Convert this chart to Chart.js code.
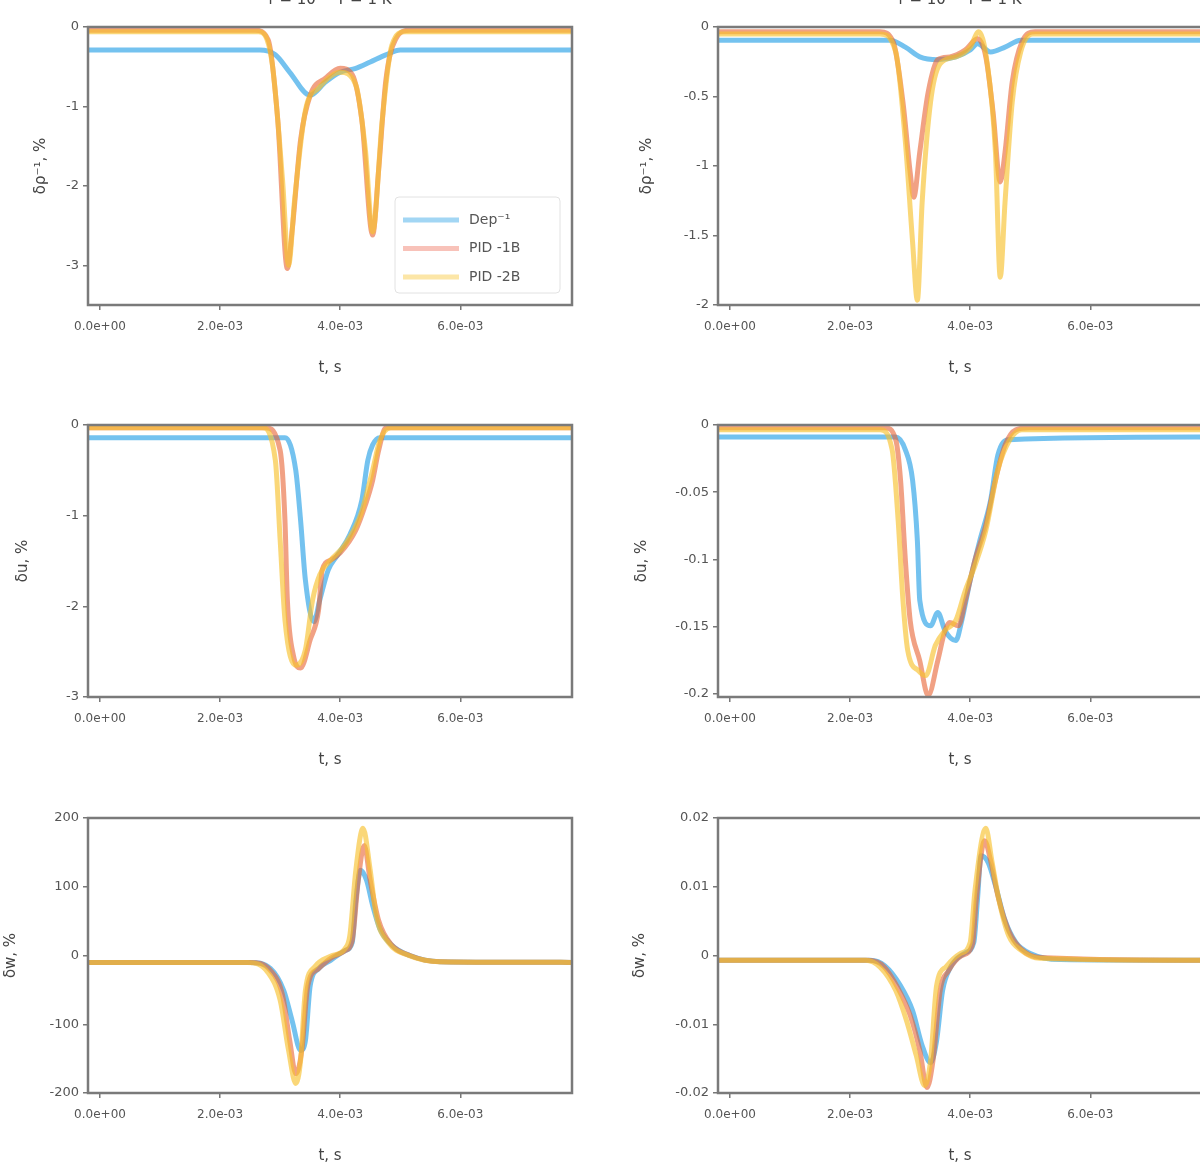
<!DOCTYPE html>
<html>
<head>
<meta charset="utf-8">
<script src="https://cdn.jsdelivr.net/npm/chart.js@4.4.1/dist/chart.umd.min.js"></script>
<style>
    html, body { margin: 0; padding: 0; background: #fff; width: 1200px; height: 1176px; overflow: hidden; }
    .panel { position: absolute; width: 630px; }
</style>
</head>
<body>
<div class="panel" style="left:0;top:0"><canvas id="pA" width="630" height="395"></canvas></div>
<div class="panel" style="left:630px;top:0"><canvas id="pB" width="630" height="395"></canvas></div>
<div class="panel" style="left:0;top:395px"><canvas id="pC" width="630" height="392"></canvas></div>
<div class="panel" style="left:630px;top:395px"><canvas id="pD" width="630" height="392"></canvas></div>
<div class="panel" style="left:0;top:787px"><canvas id="pE" width="630" height="396"></canvas></div>
<div class="panel" style="left:630px;top:787px"><canvas id="pF" width="630" height="396"></canvas></div>
<script>
// series and tick labels
const seriesNames = ['Dep⁻¹', 'PID -1B', 'PID -2B'];
const xTickLabels = ['0.0e+00', '2.0e-03', '4.0e-03', '6.0e-03'];
const yTicksA = ['0', '-1', '-2', '-3'];
const yTicksB = ['0', '-0.5', '-1', '-1.5', '-2'];
const yTicksC = ['0', '-1', '-2', '-3'];
const yTicksD = ['0', '-0.05', '-0.1', '-0.15', '-0.2'];
const yTicksE = ['200', '100', '0', '-100', '-200'];
const yTicksF = ['0.02', '0.01', '0', '-0.01', '-0.02'];

// panel A (top left)
const aBlueX = [-0.1, 1.33, 1.46, 1.58, 1.75, 1.88, 2.0, 2.13, 2.25, 2.38, 2.5, 3.93];
const aBlueY = [-0.29, -0.29, -0.35, -0.57, -0.86, -0.69, -0.57, -0.52, -0.44, -0.35, -0.29, -0.29];
const aRedX = [-0.1, 1.29, 1.40, 1.48, 1.56, 1.60, 1.67, 1.75, 1.88, 2.0, 2.1, 2.18, 2.27, 2.32, 2.38, 2.46, 2.58, 3.93];
const aRedY = [-0.04, -0.04, -0.16, -1.17, -3.04, -2.56, -1.42, -0.86, -0.64, -0.52, -0.6, -1.17, -2.62, -1.8, -0.67, -0.16, -0.04, -0.04];
const aGoldX = [-0.1, 1.32, 1.43, 1.52, 1.57, 1.62, 1.71, 1.82, 2.0, 2.13, 2.21, 2.27, 2.35, 2.43, 2.54, 3.93];
const aGoldY = [-0.06, -0.06, -0.42, -1.93, -3.0, -2.18, -1.05, -0.77, -0.57, -0.73, -1.55, -2.58, -1.17, -0.23, -0.06, -0.06];

// panel B (top right)
const bBlueX = [-0.1, 1.33, 1.46, 1.58, 1.73, 1.88, 2.0, 2.06, 2.17, 2.29, 2.42, 3.93];
const bBlueY = [-0.19, -0.19, -0.29, -0.43, -0.47, -0.43, -0.33, -0.24, -0.36, -0.29, -0.19, -0.19];
const bRedX = [-0.1, 1.25, 1.36, 1.44, 1.5, 1.53, 1.58, 1.65, 1.73, 1.83, 1.96, 2.06, 2.13, 2.19, 2.25, 2.29, 2.35, 2.43, 2.54, 3.93];
const bRedY = [-0.07, -0.07, -0.22, -1.08, -2.09, -2.45, -1.8, -0.94, -0.47, -0.43, -0.33, -0.17, -0.43, -1.22, -2.23, -1.8, -0.79, -0.22, -0.07, -0.07];
const bGoldX = [-0.1, 1.25, 1.38, 1.46, 1.52, 1.56, 1.6, 1.67, 1.75, 1.88, 2.0, 2.07, 2.14, 2.21, 2.25, 2.29, 2.35, 2.42, 2.52, 3.93];
const bGoldY = [-0.1, -0.1, -0.36, -1.65, -3.09, -3.93, -2.52, -1.08, -0.53, -0.43, -0.29, -0.07, -0.5, -1.8, -3.6, -2.52, -1.08, -0.36, -0.1, -0.1];

// panel C (middle left)
const cBlueX = [-0.1, 1.54, 1.63, 1.67, 1.71, 1.78, 1.83, 1.9, 1.98, 2.08, 2.18, 2.23, 2.27, 2.33, 3.93];
const cBlueY = [-0.14, -0.14, -0.5, -1.05, -1.71, -2.17, -1.93, -1.6, -1.43, -1.21, -0.83, -0.39, -0.22, -0.14, -0.14];
const cRedX = [-0.1, 1.38, 1.5, 1.54, 1.56, 1.61, 1.67, 1.75, 1.82, 1.85, 1.92, 2.0, 2.13, 2.21, 2.27, 2.32, 2.38, 3.93];
const cRedY = [-0.03, -0.03, -0.28, -1.05, -1.93, -2.54, -2.68, -2.37, -2.04, -1.6, -1.49, -1.41, -1.16, -0.88, -0.61, -0.28, -0.03, -0.03];
const cGoldX = [-0.1, 1.35, 1.46, 1.5, 1.54, 1.63, 1.71, 1.77, 1.83, 1.92, 2.04, 2.17, 2.27, 2.33, 2.42, 3.93];
const cGoldY = [-0.03, -0.03, -0.39, -1.27, -2.15, -2.65, -2.48, -1.93, -1.65, -1.49, -1.32, -0.99, -0.5, -0.17, -0.03, -0.03];

// panel D (middle right)
const dBlueX = [-0.1, 1.38, 1.46, 1.52, 1.56, 1.58, 1.67, 1.73, 1.79, 1.88, 1.93, 2.0, 2.08, 2.17, 2.23, 2.32, 3.93];
const dBlueY = [-0.18, -0.18, -0.37, -0.82, -1.72, -2.61, -2.99, -2.79, -3.06, -3.21, -2.91, -2.31, -1.72, -1.12, -0.45, -0.22, -0.18];
const dRedX = [-0.1, 1.29, 1.38, 1.42, 1.46, 1.5, 1.58, 1.65, 1.73, 1.79, 1.83, 1.9, 1.96, 2.04, 2.13, 2.21, 2.29, 2.38, 2.5, 3.93];
const dRedY = [-0.04, -0.04, -0.22, -0.82, -2.01, -2.91, -3.51, -4.03, -3.51, -3.06, -2.94, -2.99, -2.61, -2.01, -1.49, -0.82, -0.3, -0.07, -0.04, -0.04];
const dGoldX = [-0.1, 1.25, 1.35, 1.4, 1.44, 1.48, 1.57, 1.63, 1.71, 1.79, 1.88, 1.96, 2.04, 2.13, 2.23, 2.33, 2.43, 3.93];
const dGoldY = [-0.07, -0.07, -0.37, -1.42, -2.61, -3.36, -3.66, -3.73, -3.28, -3.06, -2.91, -2.46, -2.09, -1.57, -0.67, -0.22, -0.07, -0.07];

// panel E (bottom left)
const eBlueX = [-0.1, 1.25, 1.42, 1.53, 1.6, 1.67, 1.71, 1.75, 1.82, 1.92, 2.04, 2.1, 2.13, 2.17, 2.22, 2.27, 2.33, 2.43, 2.58, 2.83, 3.93];
const eBlueY = [-0.1, -0.1, -0.19, -0.51, -0.95, -1.38, -1.24, -0.44, -0.19, -0.07, 0.07, 0.19, 0.8, 1.24, 1.09, 0.73, 0.39, 0.15, 0, -0.09, -0.1];
const eRedX = [-0.1, 1.25, 1.42, 1.52, 1.58, 1.63, 1.68, 1.73, 1.82, 1.92, 2.04, 2.1, 2.15, 2.2, 2.25, 2.32, 2.42, 2.58, 2.83, 3.93];
const eRedY = [-0.1, -0.1, -0.22, -0.58, -1.24, -1.72, -1.38, -0.44, -0.19, -0.04, 0.07, 0.22, 1.09, 1.6, 1.09, 0.51, 0.17, 0, -0.09, -0.1];
const eGoldX = [-0.1, 1.23, 1.4, 1.5, 1.57, 1.63, 1.67, 1.71, 1.79, 1.92, 2.04, 2.08, 2.13, 2.19, 2.25, 2.3, 2.4, 2.57, 2.83, 3.93];
const eGoldY = [-0.1, -0.1, -0.25, -0.65, -1.38, -1.86, -1.53, -0.51, -0.16, -0.01, 0.1, 0.29, 1.24, 1.85, 1.24, 0.58, 0.19, 0, -0.09, -0.1];

// panel F (bottom right)
const fBlueX = [-0.1, 1.17, 1.29, 1.42, 1.52, 1.6, 1.67, 1.72, 1.77, 1.83, 1.96, 2.03, 2.06, 2.09, 2.15, 2.21, 2.29, 2.38, 2.5, 2.75, 3.93];
const fBlueY = [-0.07, -0.07, -0.15, -0.44, -0.8, -1.31, -1.56, -1.24, -0.51, -0.19, 0.04, 0.19, 0.8, 1.45, 1.35, 1.02, 0.51, 0.19, 0.03, -0.06, -0.07];
const fRedX = [-0.1, 1.15, 1.28, 1.4, 1.5, 1.58, 1.64, 1.69, 1.75, 1.82, 1.93, 2.02, 2.05, 2.12, 2.17, 2.23, 2.32, 2.42, 2.58, 3.93];
const fRedY = [-0.07, -0.07, -0.16, -0.48, -0.87, -1.38, -1.92, -1.53, -0.51, -0.22, 0, 0.17, 0.8, 1.67, 1.38, 0.87, 0.36, 0.1, -0.03, -0.07];
const fGoldX = [-0.1, 1.13, 1.25, 1.38, 1.47, 1.55, 1.62, 1.67, 1.72, 1.8, 1.92, 2.0, 2.04, 2.13, 2.18, 2.24, 2.32, 2.43, 2.58, 3.93];
const fGoldY = [-0.07, -0.07, -0.17, -0.51, -0.95, -1.45, -1.89, -1.53, -0.44, -0.16, 0.03, 0.19, 0.95, 1.85, 1.38, 0.8, 0.29, 0.07, -0.04, -0.07];

const seriesColors = ['rgba(70, 174, 234, 0.75)', 'rgba(232, 98, 50, 0.6)', 'rgba(248, 194, 48, 0.65)'];
const legendColors = ['rgba(70, 174, 234, 0.5)', 'rgba(240, 120, 100, 0.45)', 'rgba(250, 205, 80, 0.5)'];
const FONT = "'DejaVu Sans', sans-serif";

// Moldura cinza em volta da área do gráfico
const framePlugin = {
    id: 'frame',
    afterDatasetsDraw(chart) {
        const { ctx, chartArea: a } = chart;
        ctx.save();
        ctx.strokeStyle = '#7a7a7a';
        ctx.lineWidth = 2.5;
        ctx.strokeRect(a.left, a.top, a.right - a.left, a.bottom - a.top);
        ctx.restore();
    }
};

// Legenda dentro do gráfico (canto inferior direito)
const boxLegendPlugin = {
    id: 'boxLegend',
    afterDatasetsDraw(chart, args, opts) {
        if (!opts.show) return;
        const { ctx, chartArea: a } = chart;
        const w = 165, h = 96;
        const x0 = a.right - 12 - w, y0 = a.bottom - 12 - h;
        ctx.save();
        ctx.fillStyle = 'rgba(255,255,255,0.85)';
        ctx.strokeStyle = '#e2e2e2';
        ctx.lineWidth = 1;
        ctx.beginPath();
        ctx.roundRect(x0, y0, w, h, 4);
        ctx.fill();
        ctx.stroke();
        ctx.font = '14px ' + FONT;
        ctx.textBaseline = 'middle';
        seriesNames.forEach((name, i) => {
            const y = y0 + 23 + i * 28.5;
            ctx.strokeStyle = legendColors[i];
            ctx.lineWidth = 5;
            ctx.beginPath();
            ctx.moveTo(x0 + 8, y);
            ctx.lineTo(x0 + 64, y);
            ctx.stroke();
            ctx.fillStyle = '#555';
            ctx.fillText(name, x0 + 74, y);
        });
        ctx.restore();
    }
};

// Título no topo (cortado pela borda da figura)
const topTitlePlugin = {
    id: 'topTitle',
    afterDraw(chart, args, opts) {
        if (!opts.text) return;
        const { ctx, chartArea: a } = chart;
        ctx.save();
        ctx.font = '15px ' + FONT;
        ctx.fillStyle = '#444';
        ctx.textAlign = 'center';
        ctx.textBaseline = 'middle';
        ctx.fillText(opts.text, (a.left + a.right) / 2, 0);
        ctx.restore();
    }
};

function buildDatasets(xs, ys) {
    return xs.map((xArr, i) => ({
        label: seriesNames[i],
        data: xArr.map((x, j) => ({ x: x, y: ys[i][j] })),
        borderColor: seriesColors[i],
        borderWidth: 5,
        pointRadius: 0,
        cubicInterpolationMode: 'monotone',
        fill: false,
        order: 3 - i
    }));
}

function renderPanel(id, p) {
    const ctx = document.getElementById(id).getContext('2d');
    return new Chart(ctx, {
        type: 'line',
        data: { datasets: buildDatasets(p.xs, p.ys) },
        options: {
            responsive: false,
            animation: false,
            layout: { padding: { top: p.padTop, right: 58, bottom: 12, left: 0 } },
            plugins: {
                legend: { display: false },
                tooltip: { enabled: false },
                boxLegend: { show: !!p.legend },
                topTitle: { text: p.title || '' }
            },
            scales: {
                x: {
                    type: 'linear',
                    min: -0.1,
                    max: 3.93,
                    afterFit(s) { s.height = 78; },
                    border: { display: false },
                    grid: { drawOnChartArea: false, tickLength: 5, color: '#777', lineWidth: 1.5 },
                    ticks: {
                        stepSize: 1,
                        includeBounds: false,
                        autoSkip: false,
                        maxRotation: 0,
                        padding: 10,
                        color: '#555',
                        font: { family: FONT, size: 12 },
                        callback: v => xTickLabels[v] !== undefined && Number.isInteger(v) ? xTickLabels[v] : ''
                    },
                    title: {
                        display: true,
                        text: 't, s',
                        color: '#444',
                        padding: { top: 0, bottom: 6 },
                        font: { family: FONT, size: 15 }
                    }
                },
                y: {
                    type: 'linear',
                    min: p.yMin,
                    max: p.yMax,
                    afterFit(s) { s.width = 88; },
                    border: { display: false },
                    grid: { drawOnChartArea: false, tickLength: 5, color: '#777', lineWidth: 1.5 },
                    ticks: {
                        stepSize: 1,
                        includeBounds: false,
                        padding: 4,
                        color: '#555',
                        font: { family: FONT, size: 13 },
                        callback: v => {
                            const k = Math.round(p.yTop - v);
                            return Math.abs(p.yTop - v - k) < 1e-6 && p.yLabels[k] !== undefined ? p.yLabels[k] : '';
                        }
                    },
                    title: {
                        display: true,
                        text: p.yTitle,
                        color: '#444',
                        padding: { top: p.titlePad, bottom: 0 },
                        font: { family: FONT, size: 15 }
                    }
                }
            }
        },
        plugins: [framePlugin, boxLegendPlugin, topTitlePlugin]
    });
}

document.addEventListener('DOMContentLoaded', () => {
    renderPanel('pA', {
        xs: [aBlueX, aRedX, aGoldX], ys: [aBlueY, aRedY, aGoldY],
        yMin: -3.5, yMax: 0, yTop: 0, yLabels: yTicksA, yTitle: 'δρ⁻¹, %', titlePad: 32,
        padTop: 27, legend: true, title: 'r = 10⁴ · T = 1 K'
    });
    renderPanel('pB', {
        xs: [bBlueX, bRedX, bGoldX], ys: [bBlueY, bRedY, bGoldY],
        yMin: -4, yMax: 0, yTop: 0, yLabels: yTicksB, yTitle: 'δρ⁻¹, %', titlePad: 8,
        padTop: 27, title: 'r = 10⁵ · T = 1 K'
    });
    renderPanel('pC', {
        xs: [cBlueX, cRedX, cGoldX], ys: [cBlueY, cRedY, cGoldY],
        yMin: -3, yMax: 0, yTop: 0, yLabels: yTicksC, yTitle: 'δu, %', titlePad: 14,
        padTop: 30
    });
    renderPanel('pD', {
        xs: [dBlueX, dRedX, dGoldX], ys: [dBlueY, dRedY, dGoldY],
        yMin: -4.05, yMax: 0, yTop: 0, yLabels: yTicksD, yTitle: 'δu, %', titlePad: 3,
        padTop: 30
    });
    renderPanel('pE', {
        xs: [eBlueX, eRedX, eGoldX], ys: [eBlueY, eRedY, eGoldY],
        yMin: -2, yMax: 2, yTop: 2, yLabels: yTicksE, yTitle: 'δw, %', titlePad: 2,
        padTop: 31
    });
    renderPanel('pF', {
        xs: [fBlueX, fRedX, fGoldX], ys: [fBlueY, fRedY, fGoldY],
        yMin: -2, yMax: 2, yTop: 2, yLabels: yTicksF, yTitle: 'δw, %', titlePad: 1,
        padTop: 31
    });
});
</script>
</body>
</html>
